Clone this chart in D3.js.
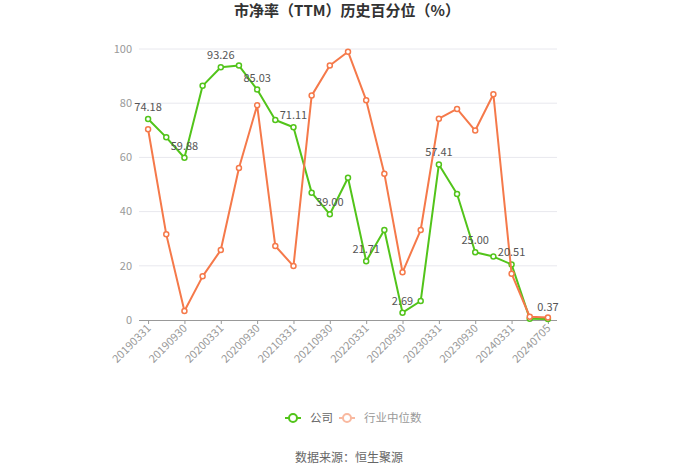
<!DOCTYPE html>
<html><head><meta charset="utf-8">
<script src="https://cdn.jsdelivr.net/npm/d3@7"></script>
<style>body{margin:0;background:#fff;} svg{display:block;}</style>
</head><body><svg id="c" width="700" height="473"></svg>
<script>
const categories = ["20190331","20190630","20190930","20191231","20200331","20200630","20200930","20201231","20210331","20210630","20210930","20211231","20220331","20220630","20220930","20221231","20230331","20230630","20230930","20231231","20240331","20240630","20240705"];
const companyValues = [74.18,67.4,59.88,86.4,93.26,93.9,85.03,73.8,71.11,47.0,39.00,52.5,21.71,33.2,2.69,7.0,57.41,46.5,25.00,23.4,20.51,0.5,0.37];
const industryValues = [70.4,31.6,3.3,16.1,25.8,56.1,79.2,27.3,19.9,82.8,93.9,99.0,81.1,54.0,17.6,33.2,74.3,77.9,69.9,83.3,17.1,1.2,0.9];
const yTicks = [0,20,40,60,80,100];
const seriesNames = ["公司","行业中位数"];
const title = "市净率（TTM）历史百分位（%）";
const source = "数据来源：恒生聚源";

const green = "#52c41a", orange = "#f5794a";
const font = "'Noto Sans CJK SC', 'Noto Sans', sans-serif";
const svg = d3.select("#c");
const L = 139, R = 557, T = 49, B = 320;
const x = d3.scalePoint().domain(categories).range([L, R]).padding(0.5);
const y = d3.scaleLinear().domain([0, 100]).range([B, T]);

svg.append("text").attr("x", 347).attr("y", 16).attr("text-anchor", "middle")
  .attr("font-family", font).attr("font-weight", "bold").attr("font-size", 15).attr("fill", "#333").text(title);

// grid
svg.append("g").selectAll("line").data(yTicks.filter(d => d > 0)).join("line")
  .attr("x1", L).attr("x2", R).attr("y1", d => y(d)).attr("y2", d => y(d))
  .attr("stroke", "#e8e8ee").attr("stroke-width", 1);
// y labels
svg.append("g").selectAll("text").data(yTicks).join("text")
  .attr("x", 132).attr("y", d => y(d)).attr("dy", "0.35em").attr("text-anchor", "end")
  .attr("font-family", font).attr("font-size", 11).attr("fill", "#999").text(d => d);

// x axis
const xAxis = d3.axisBottom(x).tickValues(categories.filter((d, i) => i % 2 === 0)).tickSize(4).tickFormat(d => d);
const gx = svg.append("g").attr("transform", `translate(0,${B})`).call(xAxis);
gx.select(".domain").attr("stroke", "#999").attr("d", `M${L},0.5H${R}`);
gx.selectAll(".tick line").attr("stroke", "#999");
gx.selectAll(".tick text").attr("font-family", font).attr("font-size", 11).attr("fill", "#999")
  .attr("text-anchor", "end").attr("dy", null).attr("y", 0)
  .attr("transform", "translate(3,9) rotate(-45)");

const line = d3.line().x((d, i) => x(categories[i])).y(d => y(d));
function drawSeries(vals, color) {
  svg.append("path").datum(vals).attr("d", line).attr("fill", "none")
    .attr("stroke", color).attr("stroke-width", 2).attr("stroke-linejoin", "round");
  svg.append("g").selectAll("circle").data(vals).join("circle")
    .attr("cx", (d, i) => x(categories[i])).attr("cy", d => y(d)).attr("r", 2.5)
    .attr("fill", "#fff").attr("stroke", color).attr("stroke-width", 1.5);
}
drawSeries(companyValues, green);
drawSeries(industryValues, orange);

// labels
svg.append("g").selectAll("text").data(companyValues.map((v, i) => [v, i]).filter(d => d[1] % 2 === 0)).join("text")
  .attr("x", d => x(categories[d[1]])).attr("y", d => y(d[0]) - 8).attr("text-anchor", "middle")
  .attr("font-family", font).attr("font-size", 11).attr("fill", "#555").text(d => d[0].toFixed(2));

// legend
const leg = [{name: seriesNames[0], color: green, tc: "#666", x0: 285}, {name: seriesNames[1], color: "#f9b9a0", tc: "#999", x0: 339}];
leg.forEach(l => {
  const g = svg.append("g");
  g.append("line").attr("x1", l.x0).attr("x2", l.x0 + 16).attr("y1", 418).attr("y2", 418).attr("stroke", l.color).attr("stroke-width", 2);
  g.append("circle").attr("cx", l.x0 + 8).attr("cy", 418).attr("r", 4).attr("fill", "#fff").attr("stroke", l.color).attr("stroke-width", 2);
  g.append("text").attr("x", l.x0 + 25).attr("y", 418).attr("dy", "0.35em").attr("font-family", font).attr("font-size", 11.5).attr("fill", l.tc).text(l.name);
});

svg.append("text").attr("x", 349).attr("y", 458).attr("dy", "0.35em").attr("text-anchor", "middle")
  .attr("font-family", font).attr("font-size", 12).attr("fill", "#666").text(source);
</script></body></html>
